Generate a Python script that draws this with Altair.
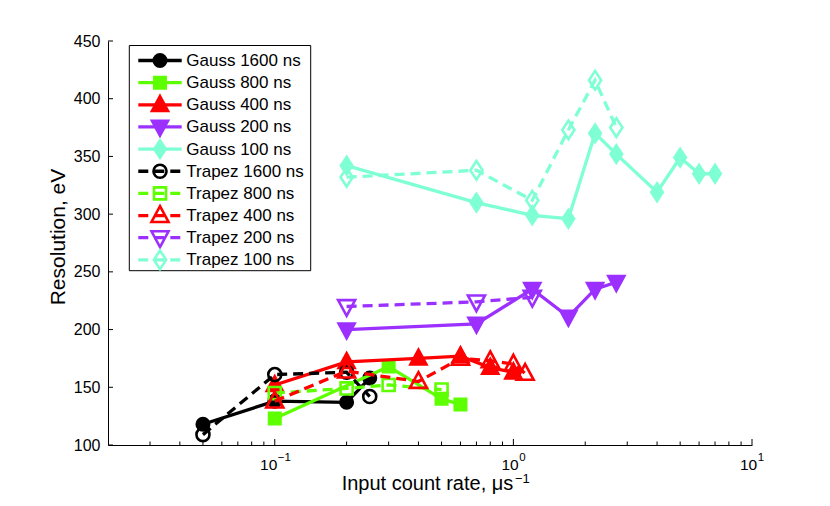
import altair as alt
import pandas as pd

# ---------------- data ----------------
g1600_x = [0.05, 0.1, 0.2, 0.25]
g1600_y = [118, 138, 137, 158]
g800_x = [0.1, 0.3, 0.5, 0.6]
g800_y = [123, 168, 140, 135]
g400_x = [0.1, 0.2, 0.4, 0.6, 0.8, 1.0]
g400_y = [152, 172, 175, 177, 167, 163]
g200_x = [0.2, 0.7, 1.2, 1.7, 2.2, 2.7]
g200_y = [200, 205, 235, 211, 235, 241]
g100_x = [0.2, 0.7, 1.2, 1.7, 2.2, 2.7, 4.0, 5.0, 6.0, 7.0]
g100_y = [342, 310, 299, 296, 370, 352, 319, 349, 335, 335]

t1600_x = [0.05, 0.1, 0.2, 0.25]
t1600_y = [109, 161, 163, 142]
t800_x = [0.1, 0.2, 0.3, 0.5]
t800_y = [145, 149, 152, 148]
t400_x = [0.1, 0.2, 0.4, 0.6, 0.8, 1.0, 1.12]
t400_y = [138, 164, 155, 175, 173, 170, 162]
t200_x = [0.2, 0.7, 1.2]
t200_y = [220, 224, 228]
t100_x = [0.2, 0.7, 1.2, 1.7, 2.2, 2.7]
t100_y = [332, 338, 312, 373, 416, 375]

labels = ["Gauss 1600 ns", "Gauss 800 ns", "Gauss 400 ns", "Gauss 200 ns", "Gauss 100 ns",
          "Trapez 1600 ns", "Trapez 800 ns", "Trapez 400 ns", "Trapez 200 ns", "Trapez 100 ns"]
xs = [g1600_x, g800_x, g400_x, g200_x, g100_x, t1600_x, t800_x, t400_x, t200_x, t100_x]
ys = [g1600_y, g800_y, g400_y, g200_y, g100_y, t1600_y, t800_y, t400_y, t200_y, t100_y]

y_ticks = [100, 150, 200, 250, 300, 350, 400, 450]
x_major = [0.1, 1, 10]
x_major_exp = ["\u22121", "0", "1"]
x_minor = [0.03, 0.04, 0.05, 0.06, 0.07, 0.08, 0.09,
           0.2, 0.3, 0.4, 0.5, 0.6, 0.7, 0.8, 0.9,
           2, 3, 4, 5, 6, 7, 8, 9]

# ---------------- styles ----------------
colors = ["#000000", "#5EFF00", "#FF0000", "#9B30FF", "#7FFFD4"] * 2
TRI_UP = "M0,-1.1L1,0.75L-1,0.75Z"
TRI_DN = "M0,1.1L1,-0.75L-1,-0.75Z"
DIAM = "M0,-1.15L0.75,0L0,1.15L-0.75,0Z"
shapes = ["circle", "square", TRI_UP, TRI_DN, DIAM] * 2
sizes = [170, 145, 290, 290, 265] * 2
DASH = [10, 6]
LW = 3.3
FONT = "Liberation Sans"
AX = "#000000"
W, H = 644, 404

rows = []
for lab, xx, yy in zip(labels, xs, ys):
    for a, b in zip(xx, yy):
        rows.append({"series": lab, "x": a, "y": b})
df = pd.DataFrame(rows)

xscale = alt.Scale(type="log", domain=[0.02, 10], nice=False)
yscale = alt.Scale(domain=[100, 450], nice=False, zero=False)
xaxis = alt.Axis(labels=False, ticks=False, tickSize=0, grid=False, title=None,
                 domainColor=AX, domainWidth=1)
yaxis = alt.Axis(values=y_ticks, ticks=False, tickSize=0, grid=False, title=None,
                 labelPadding=8, labelFont=FONT, labelFontSize=16, labelColor=AX,
                 domainColor=AX, domainWidth=1)
xenc = alt.X("x:Q", scale=xscale, axis=xaxis)
yenc = alt.Y("y:Q", scale=yscale, axis=yaxis)

layers = []
one = pd.DataFrame({"k": [0]})

# inward ticks
layers.append(alt.Chart(pd.DataFrame({"x": x_minor})).mark_rule(color=AX, strokeWidth=1)
              .encode(x=xenc, y=alt.value(H), y2=alt.value(H - 3.5)))
layers.append(alt.Chart(pd.DataFrame({"x": x_major})).mark_rule(color=AX, strokeWidth=1)
              .encode(x=xenc, y=alt.value(H), y2=alt.value(H - 6)))
layers.append(alt.Chart(pd.DataFrame({"y": y_ticks})).mark_rule(color=AX, strokeWidth=1)
              .encode(y=yenc, x=alt.value(0), x2=alt.value(5)))

# data series in plotting order
for i, lab in enumerate(labels):
    c = colors[i]
    sdf = df[df["series"] == lab]
    trap = lab.startswith("Trapez")
    if trap:
        line = alt.Chart(sdf).mark_line(color=c, strokeWidth=LW, strokeDash=DASH, strokeCap="butt")
        pts = alt.Chart(sdf).mark_point(shape=shapes[i], size=sizes[i], filled=False, color=c,
                                        strokeWidth=2.6, opacity=1)
    else:
        line = alt.Chart(sdf).mark_line(color=c, strokeWidth=LW, strokeCap="butt")
        pts = alt.Chart(sdf).mark_point(shape=shapes[i], size=sizes[i], filled=True, fill=c,
                                        stroke=c, strokeWidth=2, opacity=1)
    layers.append(line.encode(x=xenc, y=yenc))
    layers.append(pts.encode(x=xenc, y=yenc))

# x tick labels 10^n
for v, e in zip(x_major, x_major_exp):
    w = 5.5 * len(e)
    d = 8 - w / 2
    layers.append(alt.Chart(pd.DataFrame({"x": [v]})).mark_text(
        text="10", align="right", baseline="alphabetic", dx=d, font=FONT, fontSize=15.5, color=AX)
        .encode(x=xenc, y=alt.value(H + 24.5)))
    layers.append(alt.Chart(pd.DataFrame({"x": [v]})).mark_text(
        text=e, align="left", baseline="alphabetic", dx=d + 0.5, font=FONT, fontSize=11.5, color=AX)
        .encode(x=xenc, y=alt.value(H + 15.5)))

# axis titles
layers.append(alt.Chart(one).mark_text(text="Input count rate, \u03bcs", align="right",
                                       baseline="alphabetic", font=FONT, fontSize=20, color=AX)
              .encode(x=alt.value(405.3), y=alt.value(449)))
layers.append(alt.Chart(one).mark_text(text="\u22121", align="left", baseline="alphabetic",
                                       font=FONT, fontSize=13, color=AX)
              .encode(x=alt.value(407), y=alt.value(442)))
layers.append(alt.Chart(one).mark_text(text="Resolution, eV", align="center", baseline="alphabetic",
                                       angle=270, font=FONT, fontSize=21, color=AX)
              .encode(x=alt.value(-43), y=alt.value(196)))

# legend
layers.append(alt.Chart(one).mark_rect(fill="white", stroke=AX, strokeWidth=1)
              .encode(x=alt.value(21.3), x2=alt.value(202.7), y=alt.value(4.5), y2=alt.value(229.7)))
for i, lab in enumerate(labels):
    c = colors[i]
    yy = 19.5 + 22.15 * i
    trap = lab.startswith("Trapez")
    if trap:
        rl = alt.Chart(one).mark_rule(color=c, strokeWidth=LW, strokeDash=DASH, strokeCap="butt")
        pt = alt.Chart(one).mark_point(shape=shapes[i], size=sizes[i], filled=False, color=c,
                                       strokeWidth=2.6, opacity=1)
    else:
        rl = alt.Chart(one).mark_rule(color=c, strokeWidth=LW, strokeCap="butt")
        pt = alt.Chart(one).mark_point(shape=shapes[i], size=sizes[i], filled=True, fill=c,
                                       stroke=c, strokeWidth=2, opacity=1)
    layers.append(rl.encode(x=alt.value(30.3), x2=alt.value(73.7), y=alt.value(yy)))
    layers.append(pt.encode(x=alt.value(52), y=alt.value(yy)))
    layers.append(alt.Chart(one).mark_text(align="left", baseline="middle", font=FONT,
                                           fontSize=17, color=AX)
                  .encode(x=alt.value(78.3), y=alt.value(yy + 0.5), text=alt.value(lab)))

chart = alt.layer(*layers).properties(
    width=W, height=H,
    autosize=alt.AutoSizeParams(type="none"),
    padding={"left": 100, "top": 33, "right": 70, "bottom": 53},
    background="white",
).configure_view(strokeWidth=0)

chart.save("out.html", embed_options={"renderer": "svg", "actions": False})
